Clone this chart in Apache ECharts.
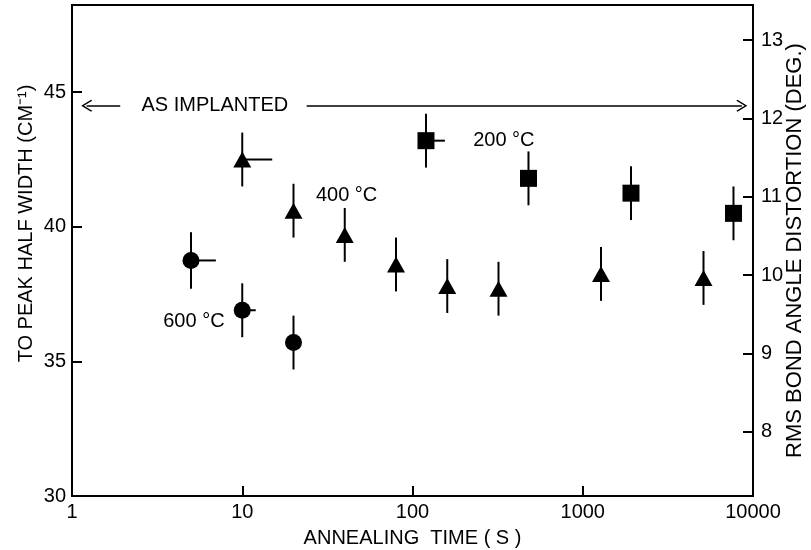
<!DOCTYPE html>
<html>
<head>
<meta charset="utf-8">
<script src="https://cdn.jsdelivr.net/npm/echarts@6/dist/echarts.min.js"></script>
<style>
  html, body { margin: 0; padding: 0; background: #fff; }
  #chart { width: 811px; height: 550px; }
</style>
</head>
<body>
<div id="chart"></div>
<script>
// annealing times (s) and TO peak half width (cm^-1)
const circleTimes = [5, 10, 20];
const circleWidth = [38.75, 36.9, 35.7];
const circleErr = [1.05, 1.0, 1.0];
const circleTimeHigh = [7, 12, null];

const triTimes = [10, 20, 40, 80, 160, 320, 1280, 5120];
const triWidth = [42.5, 40.6, 39.7, 38.6, 37.8, 37.7, 38.25, 38.1];
const triErr = [1.0, 1.0, 1.0, 1.0, 1.0, 1.0, 1.0, 1.0];
const triTimeHigh = [15, null, null, null, null, null, null, null];

const sqTimes = [120, 480, 1920, 7680];
const sqWidth = [43.2, 41.8, 41.25, 40.5];
const sqErr = [1.0, 1.0, 1.0, 1.0];
const sqTimeHigh = [155, null, null, null];

const asImplanted = 44.5;
const leftTicks = [30, 35, 40, 45];
const rightTicks = [8, 9, 10, 11, 12, 13];

const font = "Liberation Sans";

function points(xs, ys) {
  return xs.map((x, i) => [x, ys[i]]);
}
function errRows(xs, ys, es, xh) {
  return xs.map((x, i) => [x, ys[i], es[i], xh[i] || 0]);
}

function renderErr(params, api) {
  const x = api.value(0), y = api.value(1), e = api.value(2), xh = api.value(3);
  const top = api.coord([x, y + e]);
  const bot = api.coord([x, y - e]);
  const style = { stroke: "#000", lineWidth: 2 };
  const children = [
    { type: "line", shape: { x1: top[0], y1: top[1], x2: bot[0], y2: bot[1] }, style: style }
  ];
  if (xh > 0) {
    const c = api.coord([x, y]);
    const r = api.coord([xh, y]);
    children.push({ type: "line", shape: { x1: c[0], y1: c[1], x2: r[0], y2: r[1] }, style: style });
  }
  return { type: "group", children: children };
}

function tempLabel(text, coord) {
  return {
    symbol: "circle",
    symbolSize: 0,
    silent: true,
    label: { show: true, position: "inside", formatter: text, color: "#000", fontSize: 20, fontFamily: font },
    data: [{ coord: coord }]
  };
}

const chevron = "path://M0,0 L6,9 L5,10 L0,2.5 L-5,10 L-6,9 Z";

const chart = echarts.init(document.getElementById("chart"));
chart.setOption({
  animation: false,
  grid: {
    left: 72, right: 58, top: 5, bottom: 54,
    outerBoundsMode: "none",
    show: true, borderColor: "#000", borderWidth: 2
  },
  xAxis: {
    type: "log",
    logBase: 10,
    min: 1,
    max: 10000,
    name: "ANNEALING  TIME ( S )",
    nameLocation: "middle",
    nameGap: 32,
    nameMoveOverlap: false,
    nameTextStyle: { color: "#000", fontSize: 20, fontFamily: font },
    axisLine: { lineStyle: { color: "#000", width: 2 } },
    axisTick: { inside: true, length: 10, lineStyle: { color: "#000", width: 2 } },
    axisLabel: { color: "#000", fontSize: 20, fontFamily: font, margin: 6, formatter: (v) => String(v) },
    splitLine: { show: false },
    minorTick: { show: false }
  },
  yAxis: [
    {
      type: "value",
      min: 30,
      max: 48.24,
      position: "left",
      name: "TO PEAK HALF WIDTH (CM\u207B\u00B9)",
      nameLocation: "middle",
      nameGap: 36,
      nameRotate: 90,
      nameMoveOverlap: false,
      nameTextStyle: { color: "#000", fontSize: 20, fontFamily: font, padding: [0, 0, 0, 54] },
      axisLine: { show: true, lineStyle: { color: "#000", width: 2 } },
      axisTick: { inside: true, length: 10, customValues: leftTicks, lineStyle: { color: "#000", width: 2 } },
      axisLabel: { color: "#000", fontSize: 20, fontFamily: font, margin: 6, customValues: leftTicks },
      splitLine: { show: false }
    },
    {
      type: "value",
      min: 7.18,
      max: 13.45,
      position: "right",
      name: "RMS BOND ANGLE DISTORTION (DEG.)",
      nameLocation: "middle",
      nameGap: 31,
      nameRotate: 90,
      nameMoveOverlap: false,
      nameTextStyle: { color: "#000", fontSize: 22, fontFamily: font },
      axisLine: { show: true, lineStyle: { color: "#000", width: 2 } },
      axisTick: { inside: true, length: 10, customValues: rightTicks, lineStyle: { color: "#000", width: 2 } },
      axisLabel: { color: "#000", fontSize: 20, fontFamily: font, margin: 8, customValues: rightTicks },
      splitLine: { show: false }
    }
  ],
  series: [
    {
      name: "600 err",
      type: "custom",
      renderItem: renderErr,
      data: errRows(circleTimes, circleWidth, circleErr, circleTimeHigh),
      z: 1,
      silent: true
    },
    {
      name: "400 err",
      type: "custom",
      renderItem: renderErr,
      data: errRows(triTimes, triWidth, triErr, triTimeHigh),
      z: 1,
      silent: true
    },
    {
      name: "200 err",
      type: "custom",
      renderItem: renderErr,
      data: errRows(sqTimes, sqWidth, sqErr, sqTimeHigh),
      z: 1,
      silent: true
    },
    {
      name: "600 °C",
      type: "scatter",
      symbol: "circle",
      symbolSize: 17,
      itemStyle: { color: "#000", opacity: 1 },
      data: points(circleTimes, circleWidth),
      z: 3,
      markPoint: tempLabel("600 \u00B0C", [5.2, 36.5])
    },
    {
      name: "400 °C",
      type: "scatter",
      symbol: "triangle",
      symbolSize: [18, 16],
      itemStyle: { color: "#000", opacity: 1 },
      data: points(triTimes, triWidth),
      z: 3,
      markPoint: tempLabel("400 \u00B0C", [41, 41.15])
    },
    {
      name: "200 °C",
      type: "scatter",
      symbol: "rect",
      symbolSize: 17,
      itemStyle: { color: "#000", opacity: 1 },
      data: points(sqTimes, sqWidth),
      z: 3,
      markPoint: tempLabel("200 \u00B0C", [344, 43.2]),
      markLine: {
        silent: true,
        symbolSize: [12, 11],
        label: { show: false },
        lineStyle: { color: "#000", type: "solid", width: 1.5 },
        data: [
          [{ coord: [1.22, asImplanted], symbol: chevron }, { coord: [1.92, asImplanted], symbol: "none" }],
          [{ coord: [23.9, asImplanted], symbol: "none" }, { coord: [8600, asImplanted], symbol: chevron }]
        ]
      }
    },
    {
      name: "as implanted",
      type: "scatter",
      data: [],
      markPoint: {
        symbol: "circle",
        symbolSize: 0,
        silent: true,
        label: { show: true, position: "inside", formatter: "AS IMPLANTED", color: "#000", fontSize: 20, fontFamily: font },
        data: [{ coord: [6.9, asImplanted] }]
      }
    }
  ]
});
</script>
</body>
</html>
